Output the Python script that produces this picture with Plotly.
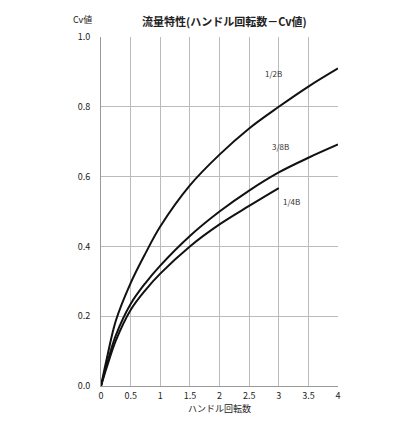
import plotly.graph_objects as go

# handle turns vs Cv value
turns_half = [0, 0.1, 0.25, 0.5, 0.75, 1.0, 1.5, 2.0, 2.5, 3.0, 3.5, 4.0]
cv_half = [0, 0.08, 0.187, 0.295, 0.38, 0.457, 0.575, 0.663, 0.738, 0.80, 0.858, 0.91]

turns_3_8 = [0, 0.1, 0.25, 0.5, 0.75, 1.0, 1.5, 2.0, 2.5, 3.0, 3.5, 4.0]
cv_3_8 = [0, 0.063, 0.145, 0.235, 0.295, 0.345, 0.43, 0.50, 0.56, 0.612, 0.654, 0.692]

turns_quarter = [0, 0.1, 0.25, 0.5, 0.75, 1.0, 1.5, 2.0, 2.5, 3.0]
cv_quarter = [0, 0.055, 0.13, 0.218, 0.275, 0.322, 0.40, 0.463, 0.516, 0.567]

label_names = ["1/2B", "3/8B", "1/4B"]
label_x = [2.91, 3.03, 3.21]
label_y = [0.895, 0.686, 0.53]

x_ticks = [0, 0.5, 1, 1.5, 2, 2.5, 3, 3.5, 4]
x_tick_text = ["0", "0.5", "1", "1.5", "2", "2.5", "3", "3.5", "4"]
y_ticks = [0.0, 0.2, 0.4, 0.6, 0.8, 1.0]
y_tick_text = ["0.0", "0.2", "0.4", "0.6", "0.8", "1.0"]

font_jp = "Noto Sans CJK JP"

fig = go.Figure()
for xs, ys in [(turns_half, cv_half), (turns_3_8, cv_3_8), (turns_quarter, cv_quarter)]:
    fig.add_trace(go.Scatter(x=xs, y=ys, mode="lines",
                             line=dict(color="#111111", width=2, shape="spline", smoothing=1.0),
                             showlegend=False, hoverinfo="skip"))

for name, lx, ly in zip(label_names, label_x, label_y):
    fig.add_annotation(x=lx, y=ly, text=name, showarrow=False,
                       font=dict(family=font_jp, size=8, color="#333333"))

# y-axis caption and chart title sit above the plot area
fig.add_annotation(x=-0.076, y=1.049, xref="paper", yref="paper", text="Cv値",
                   xanchor="center", yanchor="middle", showarrow=False,
                   font=dict(family=font_jp, size=9, color="#222222"))
fig.add_annotation(x=0.52, y=1.047, xref="paper", yref="paper",
                   text="<b>流量特性(ハンドル回転数－Cv値)</b>",
                   xanchor="center", yanchor="middle", showarrow=False,
                   font=dict(family=font_jp, size=11, color="#222222"))

# the page body adds an 8px margin, so the figure is a bit smaller than the window
fig.update_layout(
    width=408, height=415,
    margin=dict(l=93, r=78, t=29, b=37),
    paper_bgcolor="white", plot_bgcolor="white",
    font=dict(family=font_jp, size=9, color="#222222"),
)
fig.update_xaxes(range=[0, 4], tickvals=x_ticks, ticktext=x_tick_text,
                 showgrid=True, gridcolor="#bbbbbb", gridwidth=1,
                 showline=True, linecolor="#999999", linewidth=1,
                 zeroline=False, ticks="", ticklabelstandoff=1,
                 title=dict(text="ハンドル回転数", standoff=0, font=dict(size=9)))
fig.update_yaxes(range=[0, 1], tickvals=y_ticks, ticktext=y_tick_text,
                 showgrid=True, gridcolor="#bbbbbb", gridwidth=1,
                 showline=True, linecolor="#999999", linewidth=1,
                 zeroline=False, ticks="", ticklabelstandoff=8)

fig.write_html("out.html")
